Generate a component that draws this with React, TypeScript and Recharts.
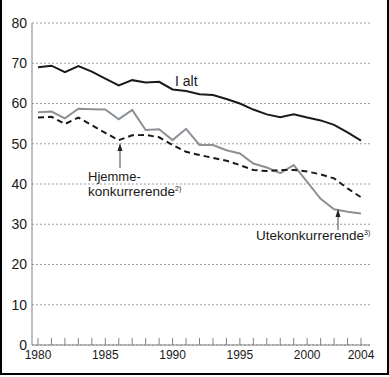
import { CartesianGrid, Line, LineChart, XAxis, YAxis } from "recharts";

const years = [
  1980, 1981, 1982, 1983, 1984, 1985, 1986, 1987, 1988, 1989, 1990, 1991, 1992,
  1993, 1994, 1995, 1996, 1997, 1998, 1999, 2000, 2001, 2002, 2003, 2004,
];
const iAlt = [
  69.0, 69.4, 67.8, 69.3, 67.9, 66.2, 64.5, 65.8, 65.2, 65.4, 63.5, 63.1, 62.3,
  62.1, 61.1, 60.0, 58.5, 57.3, 56.6, 57.3, 56.5, 55.8, 54.7, 52.8, 50.8,
];
const hjemme = [
  56.5, 56.7, 54.9, 56.5, 54.6, 52.7, 50.9, 52.1, 52.2, 51.6, 49.7, 48.0, 47.2,
  46.5, 45.8, 44.7, 43.5, 43.2, 43.5, 43.5, 43.1, 42.4, 41.4, 38.9, 36.7,
];
const ute = [
  57.8, 58.0, 56.3, 58.7, 58.6, 58.5, 56.1, 58.4, 53.4, 53.6, 50.9, 53.7, 49.7,
  49.7, 48.4, 47.6, 45.1, 44.1, 42.7, 44.7, 40.5, 36.3, 33.7, 33.1, 32.7,
];
const labelYears = [1980, 1985, 1990, 1995, 2000, 2004];
const yTicks = [0, 10, 20, 30, 40, 50, 60, 70, 80];

const data = years.map((year, i) => ({ year, iAlt: iAlt[i], hjemme: hjemme[i], ute: ute[i] }));

const font = "'Liberation Sans', Arial, sans-serif";
const ink = "#1a1a1a";
const grey = "#8c9196";

function YearTick({ x, y, payload }: any) {
  const labelled = labelYears.includes(payload.value);
  return (
    <g>
      <line x1={x} y1={y} x2={x} y2={y - 7} stroke="#808080" strokeWidth={1} />
      {labelled ? (
        <text x={x} y={y + 14} textAnchor="middle" fontSize={12} fontFamily={font} fill={ink}>
          {payload.value}
        </text>
      ) : null}
    </g>
  );
}

export default function App() {
  return (
    <div style={{ position: "fixed", left: 0, top: 0, width: 389, height: 377, background: "#fff" }}>
      <LineChart width={389} height={377} data={data} margin={{ top: 23, right: 19, bottom: 2, left: 0 }}>
        <CartesianGrid vertical={false} stroke="#a0a0a0" strokeDasharray="2 2" />
        <XAxis
          dataKey="year"
          type="number"
          domain={[1980, 2004]}
          ticks={years}
          interval={0}
          padding={{ left: 6, right: 9 }}
          height={30}
          tickSize={0}
          tickMargin={0}
          tickLine={false}
          axisLine={{ stroke: "#808080" }}
          tick={<YearTick />}
        />
        <YAxis
          type="number"
          domain={[0, 80]}
          ticks={yTicks}
          width={32}
          tickSize={0}
          tickMargin={5}
          tickLine={false}
          axisLine={{ stroke: "#808080" }}
          tick={{ fill: ink, fontSize: 14, fontFamily: font }}
        />
        <Line dataKey="ute" type="linear" stroke={grey} strokeWidth={2} dot={false} isAnimationActive={false} />
        <Line dataKey="hjemme" type="linear" stroke={ink} strokeWidth={2} strokeDasharray="6 4" dot={false} isAnimationActive={false} />
        <Line dataKey="iAlt" type="linear" stroke={ink} strokeWidth={2} dot={false} isAnimationActive={false} />
      </LineChart>
      <svg width={389} height={377} style={{ position: "absolute", left: 0, top: 0, pointerEvents: "none" }}>
        <text x={175} y={85.5} fontSize={14} fontFamily={font} fill={ink}>I alt</text>
        <text x={88} y={181} fontSize={13} fontFamily={font} fill={ink}>Hjemme-</text>
        <text x={88} y={196} fontSize={13.5} fontFamily={font} fill={ink}>
          konkurrerende<tspan fontSize={7} dy={-5}>2)</tspan>
        </text>
        <text x={256} y={240} fontSize={13.5} fontFamily={font} fill={ink}>
          Utekonkurrerende<tspan fontSize={7} dy={-5}>3)</tspan>
        </text>
        <line x1={120} y1={168} x2={120} y2={150} stroke="#444" strokeWidth={1} />
        <polygon points="120,143 117.5,151 122.5,151" fill="#222" />
        <line x1={338} y1={230} x2={338} y2={216} stroke="#444" strokeWidth={1} />
        <polygon points="338,209 335.5,217 340.5,217" fill="#222" />
      </svg>
      <div
        style={{
          position: "absolute",
          left: 0,
          top: 0,
          width: 389,
          height: 375,
          boxSizing: "border-box",
          borderLeft: "2px solid #000",
          borderRight: "2px solid #000",
          borderBottom: "2px solid #000",
          pointerEvents: "none",
        }}
      />
    </div>
  );
}
